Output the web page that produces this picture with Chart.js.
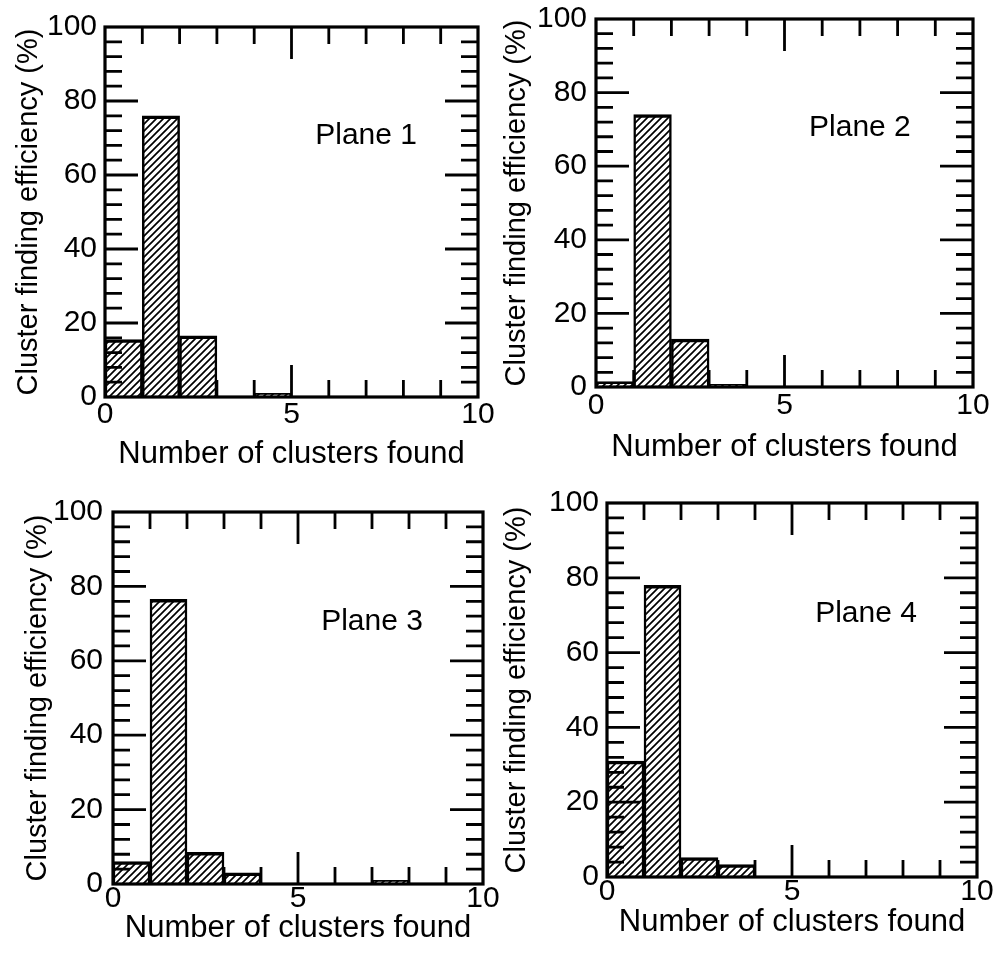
<!DOCTYPE html>
<html><head><meta charset="utf-8">
<script src="https://cdn.jsdelivr.net/npm/chart.js@4/dist/chart.umd.min.js"></script>
<style>
html,body{margin:0;padding:0;background:#fff;width:1005px;height:959px;overflow:hidden;position:relative}
canvas{position:absolute}
</style></head><body>
<canvas id="c1"></canvas><canvas id="c2"></canvas><canvas id="c3"></canvas><canvas id="c4"></canvas>
<script>
// ---- data ----
const binCenters = [0.5, 1.5, 2.5, 3.5, 4.5, 5.5, 6.5, 7.5, 8.5, 9.5];
const plane1 = [15.5, 76, 16.5, 0, 1, 0, 0, 0, 0, 0];
const plane2 = [1.5, 74, 13, 0.7, 0, 0, 0, 0, 0, 0];
const plane3 = [6, 76.5, 8.5, 3, 0, 0, 0, 1, 0, 0];
const plane4 = [31, 78, 5.2, 3.3, 0, 0, 0, 0, 0, 0];
const planeNames = ['Plane 1', 'Plane 2', 'Plane 3', 'Plane 4'];
const xTickValues = [0, 5, 10];
const yTickValues = [0, 20, 40, 60, 80, 100];
const xTitle = 'Number of clusters found';
const yTitle = 'Cluster finding efficiency (%)';
const planeLabelPos = [7, 70.5];

const FAMILY = '"Liberation Sans", Arial, Helvetica, sans-serif';
Chart.defaults.font.family = FAMILY;
Chart.defaults.color = '#000';

function makeHatch(ctx) {
  const s = 7;
  const c = document.createElement('canvas');
  c.width = s; c.height = s;
  const g = c.getContext('2d');
  g.fillStyle = '#fff'; g.fillRect(0, 0, s, s);
  g.strokeStyle = '#000'; g.lineWidth = 1.7;
  g.beginPath();
  g.moveTo(-1, s + 1); g.lineTo(s + 1, -1);
  g.moveTo(-1, 1); g.lineTo(1, -1);
  g.moveTo(s - 1, s + 1); g.lineTo(s + 1, s - 1);
  g.stroke();
  return ctx.createPattern(c, 'repeat');
}

const innerTicks = {
  id: 'innerTicks',
  afterDatasetsDraw(chart, args, opts) {
    const {ctx, chartArea: a, scales: {x, y}} = chart;
    ctx.save();
    ctx.strokeStyle = '#000';
    ctx.lineWidth = 2.8;
    ctx.beginPath();
    for (let v = 1; v < 10; v++) {
      const px = x.getPixelForValue(v);
      const len = v % 5 === 0 ? 32 : 17;
      ctx.moveTo(px, a.bottom); ctx.lineTo(px, a.bottom - len);
      ctx.moveTo(px, a.top); ctx.lineTo(px, a.top + len);
    }
    for (let v = 4; v < 100; v += 4) {
      const py = y.getPixelForValue(v);
      const len = v % 20 === 0 ? 33 : 17;
      ctx.moveTo(a.left, py); ctx.lineTo(a.left + len, py);
      ctx.moveTo(a.right, py); ctx.lineTo(a.right - len, py);
    }
    ctx.stroke();
    ctx.lineWidth = 3.2;
    ctx.strokeRect(a.left, a.top, a.right - a.left, a.bottom - a.top);
    ctx.font = '30px ' + FAMILY;
    ctx.fillStyle = '#000';
    ctx.textAlign = 'center';
    ctx.textBaseline = 'middle';
    ctx.fillText(opts.label, x.getPixelForValue(planeLabelPos[0]), y.getPixelForValue(planeLabelPos[1]));
    ctx.restore();
  }
};

function makeChart(id, values, name, g) {
  const Wy = 105, pt = 25, pr = 30, Hx = 80;
  const cv = document.getElementById(id);
  const left = g.L - Wy, top = g.T - pt;
  const w = Wy + (g.R - g.L) + pr, h = pt + (g.B - g.T) + Hx;
  cv.width = w; cv.height = h;
  cv.style.left = left + 'px'; cv.style.top = top + 'px';
  cv.style.width = w + 'px'; cv.style.height = h + 'px';
  const ctx = cv.getContext('2d');
  const yTitlePad = Math.max(0, g.yTitleX - left - 14.5);
  const xTitlePad = Math.max(0, g.B + Hx - 15.5 - g.xTitleY);
  new Chart(ctx, {
    type: 'bar',
    data: {
      datasets: [{
        data: values.map((v, i) => ({x: binCenters[i], y: v})),
        backgroundColor: makeHatch(ctx),
        borderColor: '#000',
        borderWidth: {top: 3.5, left: 2.5, right: 2.5, bottom: 0},
        borderSkipped: false,
        barPercentage: 1,
        categoryPercentage: 1
      }]
    },
    options: {
      responsive: false,
      animation: false,
      devicePixelRatio: 1,
      layout: {padding: {top: pt, right: pr, left: 0, bottom: 0}},
      plugins: {legend: {display: false}, tooltip: {enabled: false}, innerTicks: {label: name}},
      scales: {
        x: {
          type: 'linear', min: 0, max: 10, offset: false,
          grid: {display: false, drawTicks: false},
          border: {display: false},
          afterBuildTicks: s => { s.ticks = xTickValues.map(v => ({value: v})); },
          afterFit: s => { s.height = Hx; },
          ticks: {font: {size: 30, lineHeight: 1}, color: '#000', padding: g.xPad, maxRotation: 0, minRotation: 0, autoSkip: false},
          title: {display: true, text: xTitle, color: '#000', font: {size: 31, lineHeight: 1}, padding: {top: 0, bottom: xTitlePad}}
        },
        y: {
          type: 'linear', min: 0, max: 100,
          grid: {display: false, drawTicks: false},
          border: {display: false},
          afterBuildTicks: s => { s.ticks = yTickValues.map(v => ({value: v})); },
          afterFit: s => { s.width = Wy; },
          ticks: {font: {size: 30, lineHeight: 1}, color: '#000', padding: g.yPad},
          title: {display: true, text: yTitle, color: '#000', font: {size: 29, lineHeight: 1}, padding: {top: yTitlePad, bottom: 0}}
        }
      }
    },
    plugins: [innerTicks]
  });
}

makeChart('c1', plane1, planeNames[0], {L: 105, T: 27, R: 478, B: 397, yTitleX: 29, xTitleY: 454, xPad: 3, yPad: 8});
makeChart('c2', plane2, planeNames[1], {L: 596, T: 19, R: 973, B: 387, yTitleX: 517, xTitleY: 447, xPad: 4, yPad: 9});
makeChart('c3', plane3, planeNames[2], {L: 113, T: 512, R: 483, B: 884, yTitleX: 38, xTitleY: 928, xPad: 0, yPad: 10});
makeChart('c4', plane4, planeNames[3], {L: 607, T: 503, R: 977, B: 877, yTitleX: 512, xTitleY: 922, xPad: 0, yPad: 8});
</script>
</body></html>
